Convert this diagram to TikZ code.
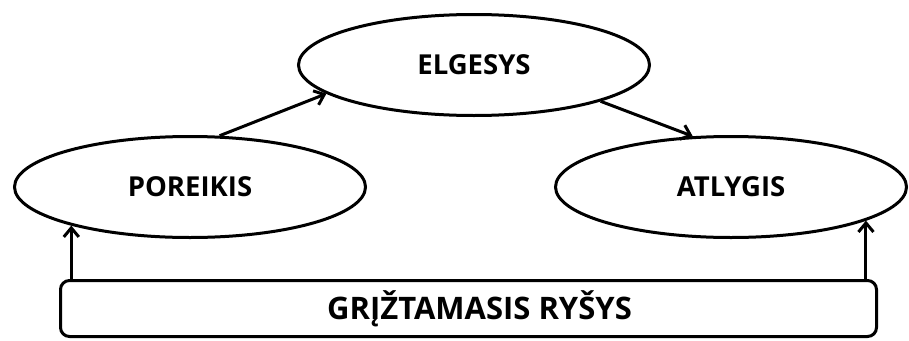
\documentclass[tikz,border=0pt]{standalone}
\usepackage{fontspec}
\setmainfont{Open Sans}
\usetikzlibrary{shapes.geometric,arrows.meta}

\begin{document}
\begin{tikzpicture}[x=1pt, y=-1pt]
            \tikzstyle{vertex}=[ellipse,draw,line width=3pt,minimum width=351pt,minimum height=101pt,inner sep=0pt,font=\fontsize{27.5}{30}\selectfont\bfseries]
            \tikzstyle{base}=[rectangle,draw,rounded corners=9pt,line width=3pt,minimum width=816pt,minimum height=56pt,inner sep=0pt,font=\fontsize{31}{34}\selectfont\bfseries]
            \tikzstyle{link}=[line width=3pt,-{Straight Barb[length=9pt,width=15pt]}]
            \useasboundingbox (0,0) rectangle (909,340);

            \node[vertex] (G_1) at (474,65)  {ELGESYS};
            \node[vertex] (G_2) at (190,187)  {POREIKIS};
            \node[vertex] (G_3) at (731,187)  {ATLYGIS};
            \node[base] (G_4) at (468.5,308.5)  {\hspace*{22pt}GRĮŽTAMASIS RYŠYS};

            \draw[link] (G_2.60) -- (G_1.191);
            \draw[link] (G_1.344) -- (G_3.127);
            \draw[link] (G_4.north -| G_2.198) -- (G_2.198);
            \draw[link] (G_4.north -| G_3.346) -- (G_3.346);
        \end{tikzpicture}
\end{document}
